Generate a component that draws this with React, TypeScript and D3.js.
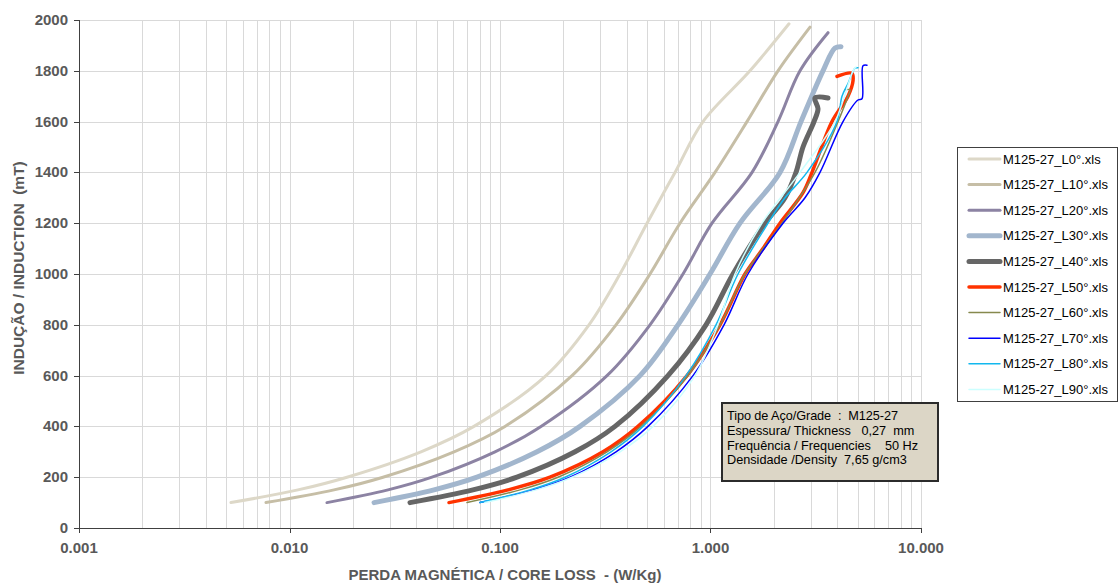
import React from "react";
import * as d3 from "d3";

const W = 1118;
const H = 583;

const yTicks = [0, 200, 400, 600, 800, 1000, 1200, 1400, 1600, 1800, 2000];
const xTickLabels = ["0.001", "0.010", "0.100", "1.000", "10.000"];
const xTickValues = [0.001, 0.01, 0.1, 1, 10];

const seriesNames = [
  "M125-27_L0°.xls",
  "M125-27_L10°.xls",
  "M125-27_L20°.xls",
  "M125-27_L30°.xls",
  "M125-27_L40°.xls",
  "M125-27_L50°.xls",
  "M125-27_L60°.xls",
  "M125-27_L70°.xls",
  "M125-27_L80°.xls",
  "M125-27_L90°.xls",
];

const L0_loss = [0.00527, 0.01097, 0.01876, 0.04214, 0.07521, 0.1654, 0.2647, 0.3715, 0.4994, 0.6782, 0.9212, 1.540, 2.36];
const L0_ind = [100, 150, 200, 300, 400, 600, 800, 1000, 1200, 1400, 1600, 1800, 1985];

const L10_loss = [0.00773, 0.01627, 0.02781, 0.06046, 0.1056, 0.2199, 0.3557, 0.5160, 0.7163, 1.0505, 1.4905, 2.0925, 2.97];
const L10_ind = [100, 150, 200, 300, 400, 600, 800, 1000, 1200, 1400, 1600, 1800, 1972];

const L20_loss = [0.01507, 0.02937, 0.04752, 0.09468, 0.1566, 0.3224, 0.5160, 0.7402, 1.0166, 1.5753, 2.0925, 2.6621, 3.616];
const L20_ind = [100, 150, 200, 300, 400, 600, 800, 1000, 1200, 1400, 1600, 1800, 1950];

const L30_loss = [0.02521, 0.04858, 0.07772, 0.1499, 0.2399, 0.4625, 0.7008, 0.9945, 1.3806, 2.1388, 2.691, 3.4233, 3.9038, 4.1683];
const L30_ind = [100, 150, 200, 300, 400, 600, 800, 1000, 1200, 1400, 1600, 1800, 1890, 1895];

const L40_loss = [0.03736, 0.07439, 0.1204, 0.2272, 0.3518, 0.6282, 0.952, 1.2792, 1.8155, 2.2591, 2.5482, 2.7506, 3.1024, 3.2411, 3.1365, 3.616];
const L40_ind = [100, 150, 200, 300, 400, 600, 800, 1000, 1200, 1300, 1400, 1500, 1600, 1650, 1693, 1693];

const L50_loss = [0.05726, 0.1091, 0.1728, 0.3085, 0.4524, 0.7733, 1.1096, 1.4582, 1.7762, 2.1388, 2.7506, 3.0353, 3.7777, 4.5002, 4.753, 4.7013, 3.9901];
const L50_ind = [100, 150, 200, 300, 400, 600, 800, 1000, 1100, 1200, 1320, 1400, 1600, 1700, 1760, 1790, 1778];

const L60_loss = [0.06969, 0.1245, 0.1886, 0.3224, 0.4675, 0.7818, 1.1096, 1.4582, 2.186, 3.1365, 4.034, 4.5002, 4.5996, 4.3547];
const L60_ind = [100, 150, 200, 300, 400, 600, 800, 1000, 1200, 1400, 1600, 1700, 1725, 1725];

const L70_loss = [0.08031, 0.1435, 0.2151, 0.3557, 0.5047, 0.8257, 1.1592, 1.5069, 2.2102, 2.8115, 3.3128, 4.2605, 5.0197, 5.2445, 5.3023, 5.5397];
const L70_ind = [100, 150, 200, 300, 400, 600, 800, 1000, 1200, 1300, 1400, 1600, 1685, 1690, 1820, 1822];

const L80_loss = [0.08031, 0.1388, 0.2037, 0.3368, 0.4779, 0.7649, 1.062, 1.3511, 1.8761, 2.2591, 2.8737, 3.9901, 4.2141, 4.5002, 4.8581, 5.0197];
const L80_ind = [100, 150, 200, 300, 400, 600, 800, 1000, 1200, 1300, 1400, 1600, 1700, 1750, 1810, 1812];

const L90_loss = [0.08482, 0.1483, 0.2199, 0.3715, 0.5333, 0.844, 1.0855, 1.3075, 1.7569, 2.6621, 3.9038, 4.753, 4.9115];
const L90_ind = [100, 150, 200, 300, 400, 600, 800, 1000, 1200, 1400, 1600, 1800, 1815];

const seriesLoss = [L0_loss, L10_loss, L20_loss, L30_loss, L40_loss, L50_loss, L60_loss, L70_loss, L80_loss, L90_loss];
const seriesInd = [L0_ind, L10_ind, L20_ind, L30_ind, L40_ind, L50_ind, L60_ind, L70_ind, L80_ind, L90_ind];

const colors = ["#ddd8c8", "#c6bea6", "#8c83a3", "#a2b6cd", "#666666", "#ff3300", "#86894e", "#0000ff", "#12b8ee", "#ccffff"];
const widths = [3, 3, 3, 5, 5, 3.5, 1.5, 1.5, 1.5, 1.5];

const infoLines = [
  "Tipo de Aço/Grade  :  M125-27",
  "Espessura/ Thickness   0,27  mm",
  "Frequência / Frequencies    50 Hz",
  "Densidade /Density  7,65 g/cm3",
];

const FONT = "Arial, 'Liberation Sans', sans-serif";
const LABEL_COLOR = "#595959";

export default function App() {
  const left = 79;
  const right = 921;
  const top = 20;
  const bottom = 528;

  const x = d3.scaleLog().domain([0.001, 10]).range([left, right]);
  const y = d3.scaleLinear().domain([0, 2000]).range([bottom, top]);

  const minor: number[] = [];
  [0.001, 0.01, 0.1, 1].forEach((d) => {
    for (let k = 1; k <= 9; k++) minor.push(d * k);
  });
  minor.push(10);

  const line = d3
    .line<[number, number]>()
    .x((d) => x(d[0]))
    .y((d) => y(d[1]))
    .curve(d3.curveCatmullRom.alpha(0.5));

  const legendX = 957;
  const legendY = 147;
  const legendW = 160;
  const legendH = 254;
  const rowH = 25.6;

  return (
    <svg
      width={W}
      height={H}
      style={{ position: "absolute", left: 0, top: 0, background: "#ffffff" }}
      fontFamily={FONT}
    >
      <rect x={0} y={0} width={W} height={H} fill="#ffffff" />
      <g stroke="#d9d9d9" strokeWidth={1}>
        {minor.map((v, i) => (
          <line key={"v" + i} x1={Math.round(x(v)) + 0.5} x2={Math.round(x(v)) + 0.5} y1={top} y2={bottom} />
        ))}
        {yTicks.map((t) => (
          <line key={"h" + t} x1={left} x2={right} y1={Math.round(y(t)) + 0.5} y2={Math.round(y(t)) + 0.5} />
        ))}
      </g>
      <g stroke="#404040" strokeWidth={1}>
        <line x1={left + 0.5} x2={left + 0.5} y1={top} y2={bottom} />
        <line x1={left} x2={right} y1={bottom + 0.5} y2={bottom + 0.5} />
        {yTicks.map((t) => (
          <line key={"yt" + t} x1={left - 5} x2={left} y1={Math.round(y(t)) + 0.5} y2={Math.round(y(t)) + 0.5} />
        ))}
        {xTickValues.map((v) => (
          <line key={"xt" + v} x1={Math.round(x(v)) + 0.5} x2={Math.round(x(v)) + 0.5} y1={bottom} y2={bottom + 5} />
        ))}
      </g>
      <g fill={LABEL_COLOR} fontSize={15} fontWeight="bold">
        {yTicks.map((t) => (
          <text key={"yl" + t} x={left - 11} y={y(t) + 5} textAnchor="end">
            {t}
          </text>
        ))}
        {xTickValues.map((v, i) => (
          <text key={"xl" + v} x={x(v)} y={553} textAnchor="middle">
            {xTickLabels[i]}
          </text>
        ))}
      </g>
      <text
        x={505}
        y={580}
        textAnchor="middle"
        fill={LABEL_COLOR}
        fontSize={15}
        fontWeight="bold"
        style={{ whiteSpace: "pre" }}
      >
        {"PERDA MAGNÉTICA / CORE LOSS  - (W/Kg)"}
      </text>
      <text
        transform={`translate(24,268) rotate(-90)`}
        textAnchor="middle"
        fill={LABEL_COLOR}
        fontSize={15.5}
        fontWeight="bold"
        style={{ whiteSpace: "pre" }}
      >
        {"INDUÇÃO / INDUCTION  (mT)"}
      </text>
      <g fill="none" strokeLinecap="round" strokeLinejoin="round">
        {seriesLoss.map((xs, i) => {
          const pts: [number, number][] = xs.map((v, j) => [v, seriesInd[i][j]]);
          return <path key={"s" + i} d={line(pts) || ""} stroke={colors[i]} strokeWidth={widths[i]} />;
        })}
      </g>
      <rect x={722} y={403} width={216} height={78} fill="#dcd6c6" stroke="#2b2b2b" strokeWidth={2} />
      <g fontSize={12.7} fill="#000000">
        {infoLines.map((s, i) => (
          <text
            key={"i" + i}
            x={727}
            y={420 + i * 14.8}
            textLength={i === 0 ? 171 : undefined}
            lengthAdjust={i === 0 ? "spacing" : undefined}
            style={{ whiteSpace: "pre" }}
          >
            {s}
          </text>
        ))}
      </g>
      <rect x={legendX + 0.5} y={legendY + 0.5} width={legendW} height={legendH} fill="#ffffff" stroke="#404040" strokeWidth={1} />
      {seriesNames.map((n, i) => {
        const cy = legendY + 12 + i * rowH;
        return (
          <g key={"lg" + i}>
            <line x1={969} x2={1000} y1={cy} y2={cy} stroke={colors[i]} strokeWidth={widths[i]} strokeLinecap="round" />
            <text x={1003} y={cy + 4.5} fontSize={13} fill="#000000">
              {n}
            </text>
          </g>
        );
      })}
    </svg>
  );
}
